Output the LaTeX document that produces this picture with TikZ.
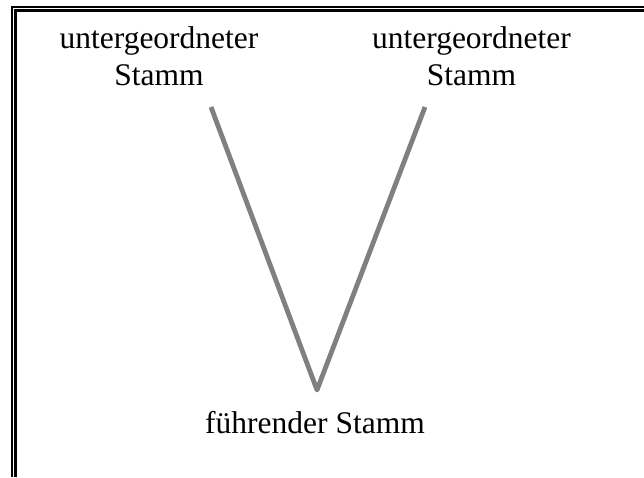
\documentclass[tikz,border=0pt]{standalone}
\usepackage{fontspec}
\setmainfont{Liberation Serif}
\begin{document}
\begin{tikzpicture}[x=1pt,y=-1pt,
  lbl/.style={inner sep=0pt, outer sep=0pt, align=center, anchor=north,
    font=\fontsize{31.5}{37}\selectfont},
  frameline/.style={line width=2.4pt, draw=black},
  stem/.style={line width=4.8pt, draw=black!50, line join=round}]
\fill[white] (0,0) rectangle (644,477);
\useasboundingbox (0,0) rectangle (644,477);
% double frame (left and top)
\draw[frameline] (12,477) -- (12,7) -- (644,7);
\draw[frameline] (15.5,477) -- (15.5,10.5) -- (644,10.5);
% labels
\node[lbl] (left) at (159,26.5) {untergeordneter\\Stamm};
\node[lbl] (right) at (471.5,26.5) {untergeordneter\\Stamm};
\node[lbl] (bottom) at (315,411.5) {führender Stamm};
% stems
\coordinate (lt) at (211,107);
\coordinate (rt) at (425,107);
\coordinate (v) at (317,390);
\draw[stem] (lt) -- (v) -- (rt);
\end{tikzpicture}
\end{document}
